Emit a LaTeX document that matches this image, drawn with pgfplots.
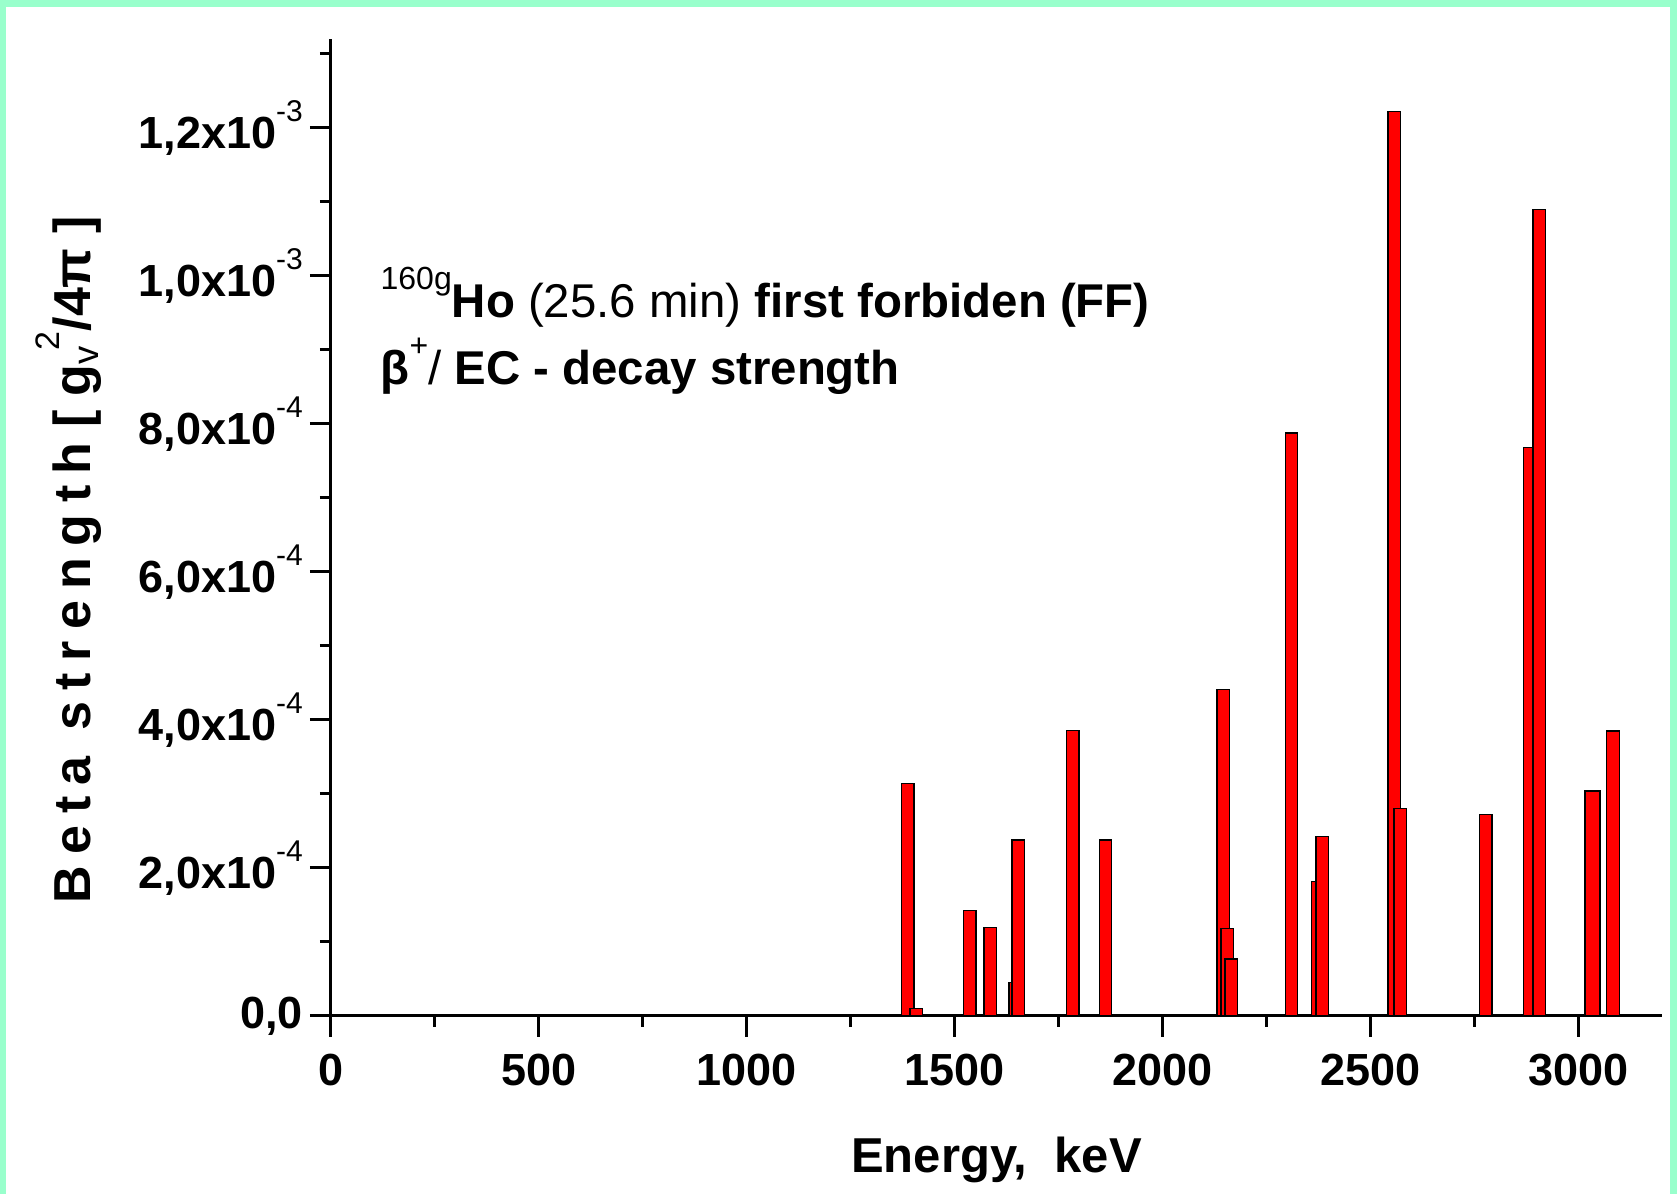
\documentclass[border=0pt]{standalone}
\usepackage{fontspec}
\setmainfont{Liberation Sans}
\usepackage{pgfplots}
\pgfplotsset{compat=1.18}
\definecolor{framegreen}{HTML}{99FFCC}
\newcommand\sups[2][15]{\raisebox{0.6em}{\mdseries\fontsize{#1}{#1}\selectfont #2}}
\pgfplotsset{bb/.style={ybar, bar width=30, bar shift=0pt, fill=red, draw=black, line width=0.65pt}}
\begin{document}
\begin{tikzpicture}
\fill[framegreen] (-165.5pt,-89pt) rectangle (673pt,508pt);
\fill[white] (-162.5pt,-89pt) rectangle (669.5pt,504.5pt);
\begin{axis}[
  scale only axis, width=665.5pt, height=488.4pt,
  xmin=0, xmax=3200, ymin=0, ymax=0.00132,
  axis x line*=bottom, axis y line*=left,
  axis line style={-, line width=1.5pt},
  tick align=outside,
  major tick length=10.5pt, minor tick length=5.5pt,
  tick style={black, line width=1.5pt},
  xtick={0,500,1000,1500,2000,2500,3000},
  xticklabels={0,500,1000,1500,2000,2500,3000},
  minor xtick={250,750,1250,1750,2250,2750},
  ytick={0,0.0002,0.0004,0.0006,0.0008,0.001,0.0012},
  yticklabels={{0,0},{2,0x10\sups{-4}},{4,0x10\sups{-4}},{6,0x10\sups{-4}},{8,0x10\sups{-4}},{1,0x10\sups{-3}},{1,2x10\sups{-3}}},
  minor ytick={0.0001,0.0003,0.0005,0.0007,0.0009,0.0011,0.0013},
  scaled ticks=false,
  tick label style={font=\fontsize{22.5}{26}\selectfont\bfseries},
  xticklabel style={yshift=-5pt},
  xlabel={Energy,\ \ keV},
  xlabel style={at={(axis description cs:0.5,-0.147)}, anchor=center, font=\fontsize{24.5}{28}\selectfont\bfseries},
  ylabel={{\addfontfeature{LetterSpace=22}Beta strength} [ g\textsubscript{\mdseries v}\kern-0.1em\sups[17]{2}/4π ]},
  ylabel style={at={(axis description cs:-0.197,0.467)}, anchor=center, font=\fontsize{26}{30}\selectfont\bfseries},
]
\addplot[bb] coordinates {(1387,0.000314)};
\addplot[bb] coordinates {(1407,0.000010)};
\addplot[bb] coordinates {(1536,0.000143)};
\addplot[bb] coordinates {(1585,0.000120)};
\addplot[bb] coordinates {(1645,0.000045)};
\addplot[bb] coordinates {(1652,0.000238)};
\addplot[bb] coordinates {(1783,0.000386)};
\addplot[bb] coordinates {(1862,0.000238)};
\addplot[bb] coordinates {(2145,0.000441)};
\addplot[bb] coordinates {(2155,0.000118)};
\addplot[bb] coordinates {(2164,0.000077)};
\addplot[bb] coordinates {(2309,0.000788)};
\addplot[bb] coordinates {(2373,0.000182)};
\addplot[bb] coordinates {(2383,0.000243)};
\addplot[bb] coordinates {(2556,0.001222)};
\addplot[bb] coordinates {(2571,0.000280)};
\addplot[bb] coordinates {(2776,0.000272)};
\addplot[bb] coordinates {(2882,0.000768)};
\addplot[bb] coordinates {(2905,0.001090)};
\addplot[bb, bar width=36] coordinates {(3033,0.000304)};
\addplot[bb] coordinates {(3082,0.000385)};
\node[anchor=base west, font=\fontsize{23.7}{28}\selectfont] at (rel axis cs:0.032,0.7146)
  {\sups[16]{160g}\textbf{Ho} (25.6 min) \textbf{first forbiden (FF)}};
\node[anchor=base west, font=\fontsize{23.7}{28}\selectfont] at (rel axis cs:0.032,0.646)
  {\textbf{β}\sups[16]{+}/ \textbf{EC - decay strength}};
\end{axis}
\end{tikzpicture}
\end{document}
